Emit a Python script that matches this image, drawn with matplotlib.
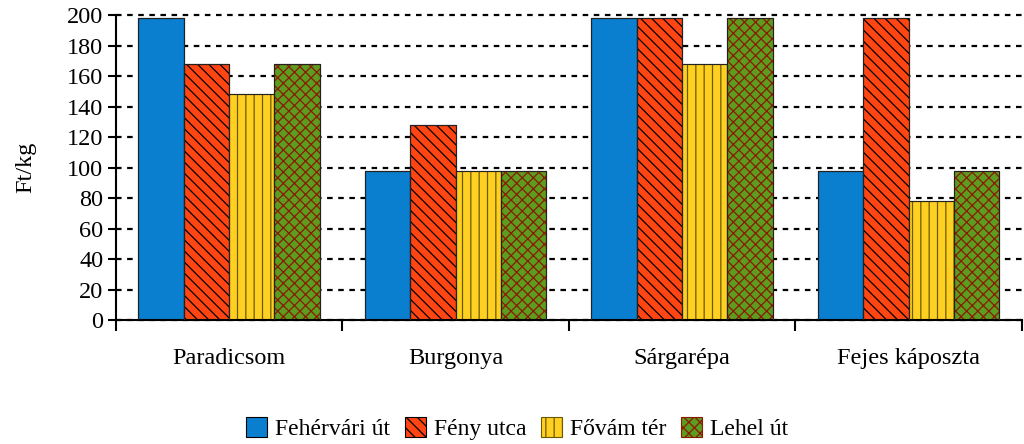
import numpy as np
import matplotlib
matplotlib.use("Agg")
from matplotlib import pyplot as plt

# data
categories = ["Paradicsom", "Burgonya", "Sárgarépa", "Fejes káposzta"]
series = ["Fehérvári út", "Fény utca", "Fővám tér", "Lehel út"]
fehervari = [198, 98, 198, 98]
feny = [168, 128, 198, 198]
fovam = [148, 98, 168, 78]
lehel = [168, 98, 198, 98]
yticks = list(range(0, 201, 20))

values = [fehervari, feny, fovam, lehel]
faces = ["#0a7fd0", "#ff4512", "#ffd021", "#5c9c1e"]
hatches = [None, "\\\\\\", "||", "xxx"]
hatch_cols = ["#000000", "#000000", "#6b5a00", "#8a1a00"]

plt.rcParams['font.family'] = ['Liberation Serif', 'DejaVu Serif']
plt.rcParams['hatch.linewidth'] = 0.9

fig = plt.figure(figsize=(10.24, 4.44), dpi=100)
ax = fig.add_axes([0.113, 0.279, 0.885, 0.687])

x = np.arange(len(categories)) + 0.5
w = 0.2
handles = []
for i, vals in enumerate(values):
    pos = x + (i - 1.5) * w
    b = ax.bar(pos, vals, w, color=faces[i], hatch=hatches[i],
               edgecolor=hatch_cols[i], linewidth=0.8, zorder=2, label=series[i])
    ax.bar(pos, vals, w, fill=False, edgecolor="#222222", linewidth=0.8, zorder=3)
    handles.append(b)

ax.set_xlim(0, 4)
ax.set_ylim(0, 200)
ax.set_yticks(yticks)
ax.yaxis.grid(True, color="black", linestyle=(0, (2.5, 2.5)), linewidth=1.6, zorder=0)
for gl in ax.get_ygridlines():
    gl.set_clip_on(False)
ax.set_axisbelow(True)

ax.set_xticks(np.arange(0, 5))
ax.set_xticklabels([])
ax.set_xticks(x, minor=True)
ax.set_xticklabels(categories, minor=True)
ax.tick_params(axis="x", which="major", length=8, width=1.5, direction="out")
ax.tick_params(axis="x", which="minor", length=0, pad=20, labelsize=17.5)
ax.tick_params(axis="y", length=6, width=1.5, labelsize=17.5, pad=3)

for s in ["top", "right"]:
    ax.spines[s].set_visible(False)
for s in ["left", "bottom"]:
    ax.spines[s].set_linewidth(1.5)

ax.set_ylabel("Ft/kg", fontsize=17.5, labelpad=22)

fig.legend(handles=handles, labels=series, loc="center", bbox_to_anchor=(0.505, 0.035),
           ncol=4, frameon=False, fontsize=17, handlelength=0.9, handleheight=0.9,
           handletextpad=0.35, columnspacing=0.6)

fig.savefig("out.png", dpi=100)
